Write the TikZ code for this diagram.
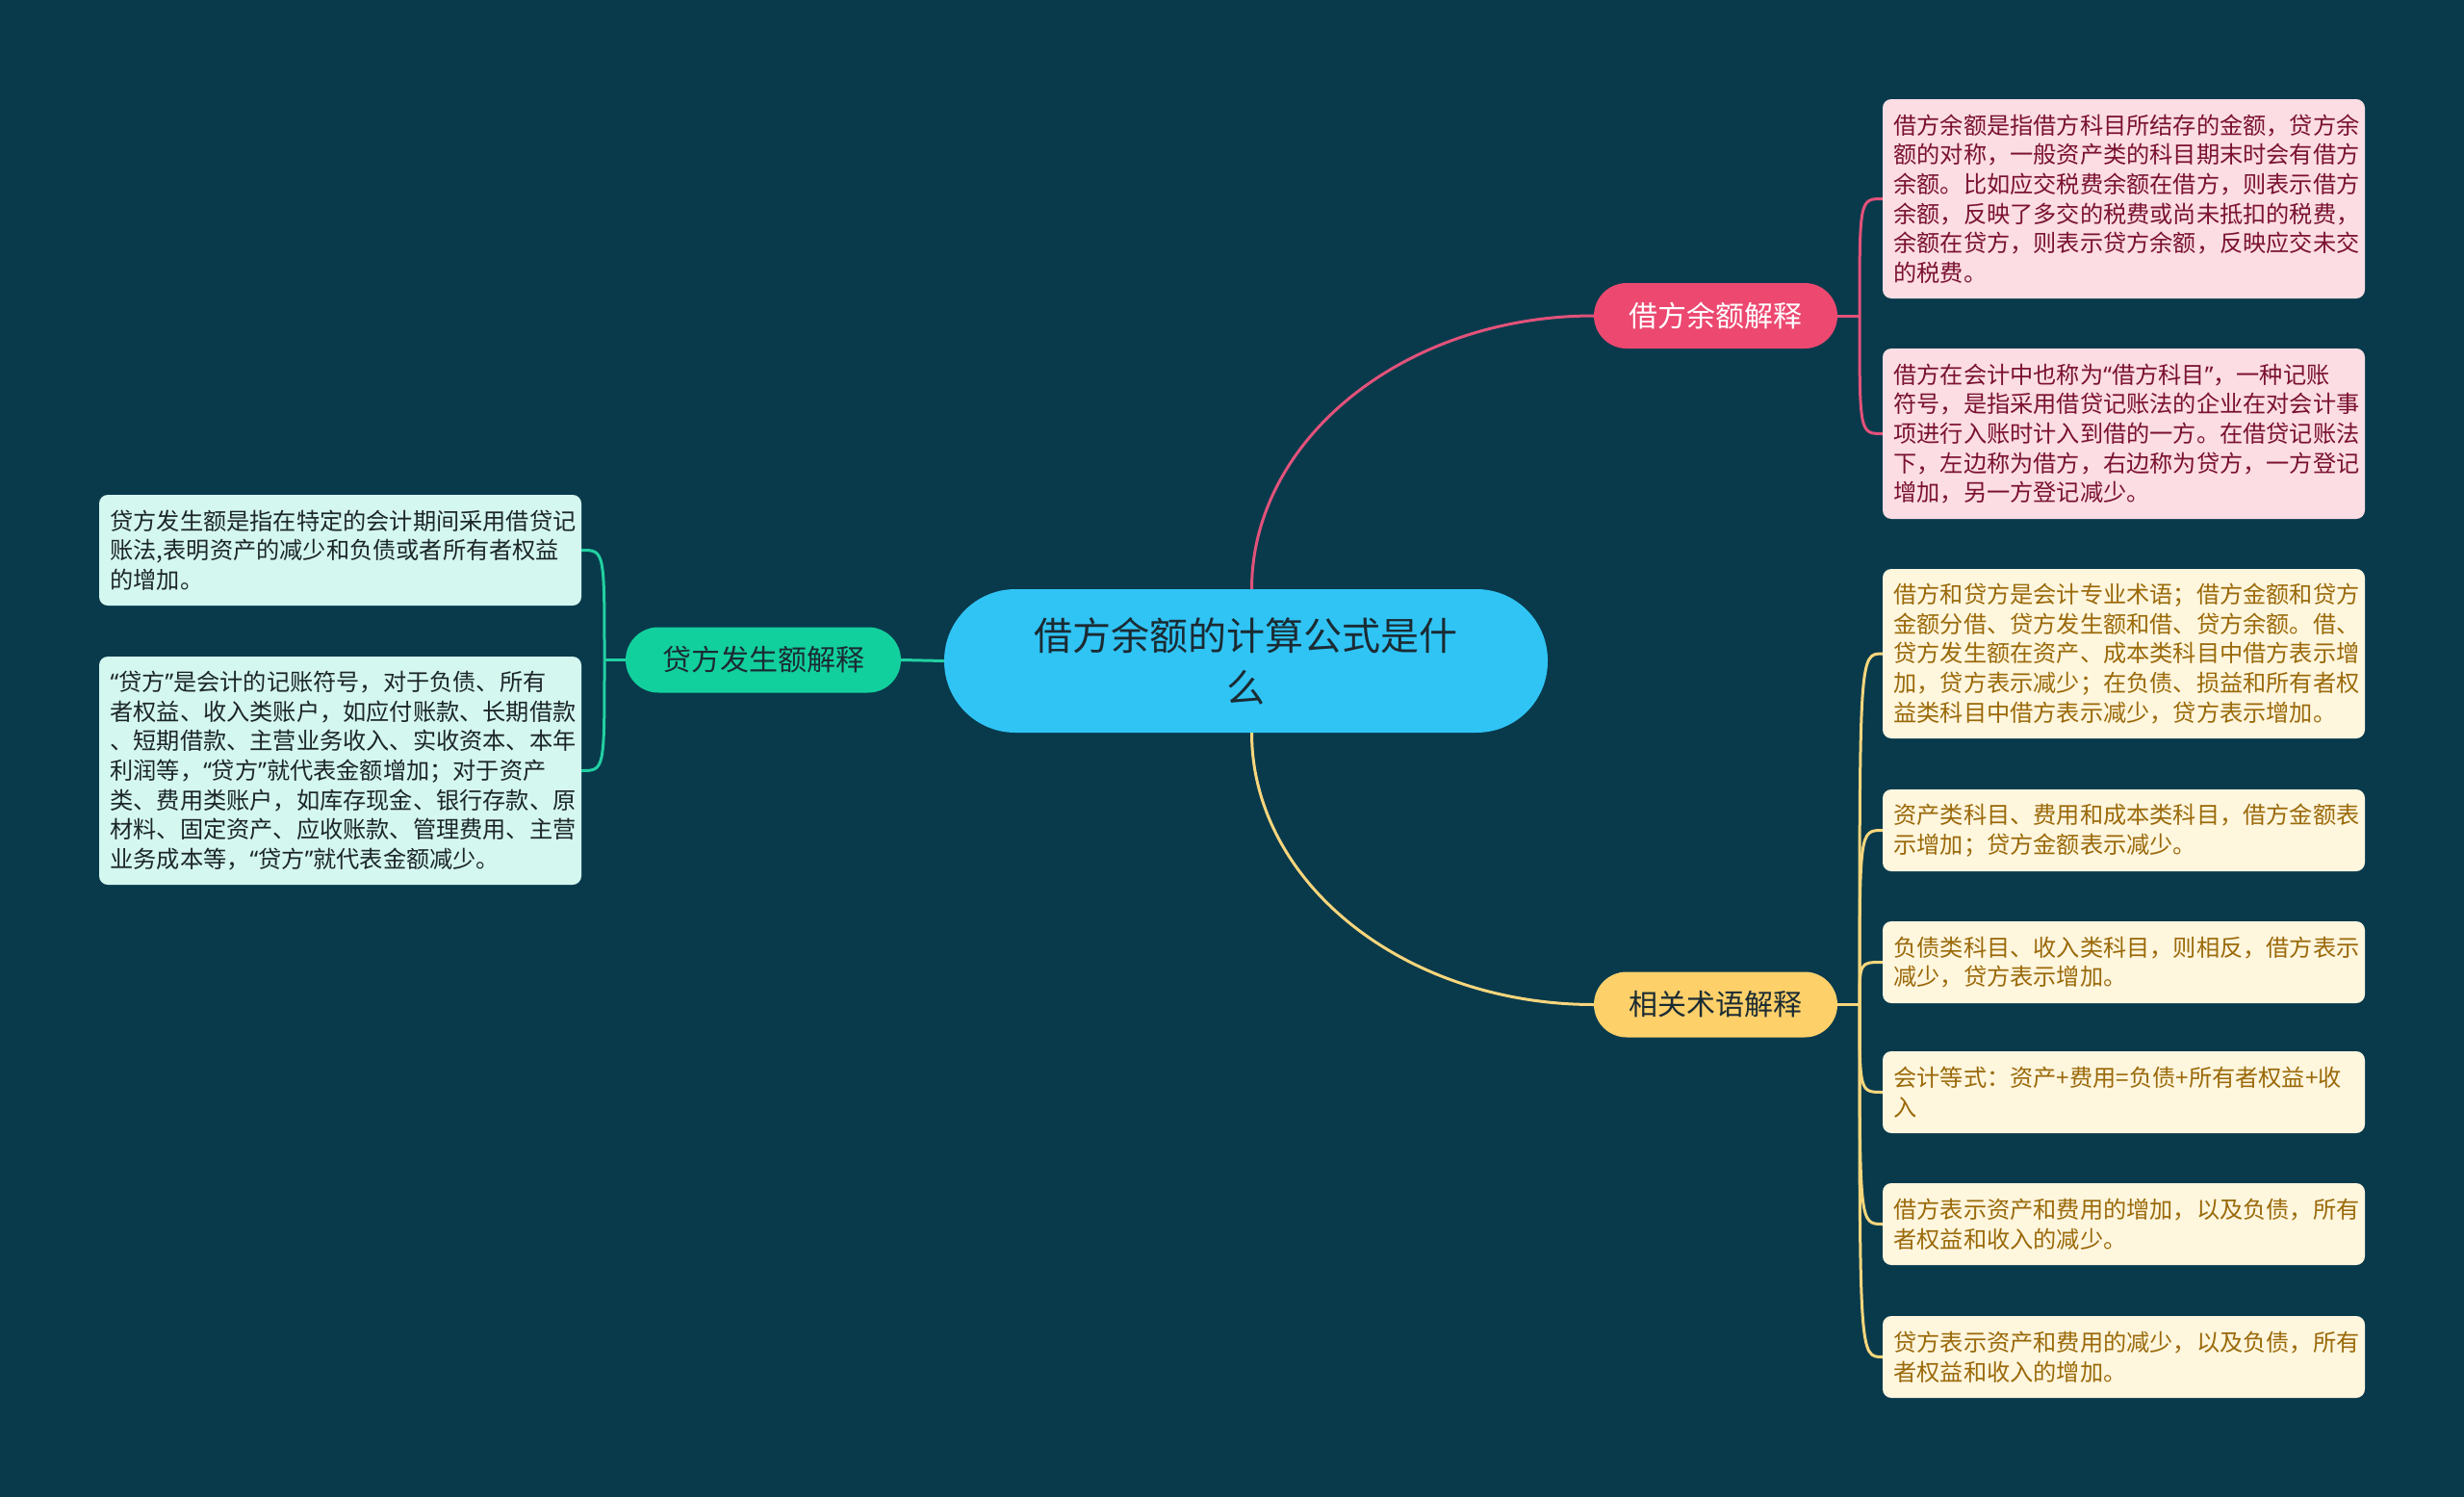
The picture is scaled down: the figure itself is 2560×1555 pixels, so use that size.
\documentclass[tikz,border=0pt]{standalone}
\usepackage{fontspec}
\setmainfont{Noto Sans CJK SC}
\newfontfamily\quotefont{Noto Sans}
\newcommand{\myql}{{\quotefont “}}
\newcommand{\myqr}{{\quotefont ”}}
\usetikzlibrary{calc}
\definecolor{bgc}{HTML}{083A4C}
\definecolor{cyanc}{HTML}{30C4F5}
\definecolor{darktext}{HTML}{1B2B33}
\definecolor{pinkc}{HTML}{EC4870}
\definecolor{pinkleaf}{HTML}{FCDDE4}
\definecolor{pinktext}{HTML}{7A1230}
\definecolor{pinkline}{HTML}{E2527A}
\definecolor{yellowc}{HTML}{FDD06A}
\definecolor{yellowleaf}{HTML}{FFF6DE}
\definecolor{yellowtext}{HTML}{9A6A0A}
\definecolor{yellowline}{HTML}{F8D67C}
\definecolor{greenc}{HTML}{12D09E}
\definecolor{greenleaf}{HTML}{D4F7EF}
\definecolor{greentext}{HTML}{1C262A}
\definecolor{greenline}{HTML}{22D0A2}
\begin{document}
\begin{tikzpicture}[x=1pt,y=-1pt,
  mainnode/.style={fill=cyanc, rounded corners=74pt, minimum width=627pt, minimum height=149pt, inner sep=0pt, align=center, text=darktext, font=\fontsize{40}{54}\selectfont},
  subnode/.style={rounded corners=34pt, minimum width=253pt, minimum height=68pt, inner sep=0pt, font=\fontsize{30}{34}\selectfont},
  leaf/.style={rounded corners=9pt, minimum width=501pt, text width=478pt, inner xsep=11.5pt, inner ysep=0pt, align=left, font=\fontsize{24.2}{30.7}\selectfont},
  pinkleafst/.style={leaf, fill=pinkleaf, text=pinktext},
  yellowleafst/.style={leaf, fill=yellowleaf, text=yellowtext},
  greenleafst/.style={leaf, fill=greenleaf, text=greentext},
  conn/.style={line width=3pt},
]
\fill[bgc] (0,0) rectangle (2560,1555);
\useasboundingbox (0,0) rectangle (2560,1555);

% main and sub nodes
\node[mainnode] (c) at (1294.5,686.5) {借方余额的计算公式是什\\么};
\node[subnode, fill=pinkc, text=white] (p) at (1782.5,328) {借方余额解释};
\node[subnode, fill=yellowc, text=darktext] (y) at (1782.5,1043.5) {相关术语解释};
\node[subnode, fill=greenc, text=darktext, minimum width=286pt] (g) at (793,685.5) {贷方发生额解释};

% pink leaves
\node[pinkleafst, minimum height=207pt] (p1) at (2206.5,206.5) {借方余额是指借方科目所结存的金额，贷方余\\额的对称，一般资产类的科目期末时会有借方\\余额。比如应交税费余额在借方，则表示借方\\余额，反映了多交的税费或尚未抵扣的税费，\\余额在贷方，则表示贷方余额，反映应交未交\\的税费。};
\node[pinkleafst, minimum height=177pt] (p2) at (2206.5,450.5) {借方在会计中也称为\myql 借方科目\myqr ，一种记账\\符号，是指采用借贷记账法的企业在对会计事\\项进行入账时计入到借的一方。在借贷记账法\\下，左边称为借方，右边称为贷方，一方登记\\增加，另一方登记减少。};

% yellow leaves
\node[yellowleafst, minimum height=176pt] (y1) at (2206.5,679) {借方和贷方是会计专业术语；借方金额和贷方\\金额分借、贷方发生额和借、贷方余额。借、\\贷方发生额在资产、成本类科目中借方表示增\\加，贷方表示减少；在负债、损益和所有者权\\益类科目中借方表示减少，贷方表示增加。};
\node[yellowleafst, minimum height=85pt] (y2) at (2206.5,862.5) {资产类科目、费用和成本类科目，借方金额表\\示增加；贷方金额表示减少。};
\node[yellowleafst, minimum height=85pt] (y3) at (2206.5,999.5) {负债类科目、收入类科目，则相反，借方表示\\减少，贷方表示增加。};
\node[yellowleafst, minimum height=85pt] (y4) at (2206.5,1134.5) {会计等式：资产+费用=负债+所有者权益+收\\入};
\node[yellowleafst, minimum height=85pt] (y5) at (2206.5,1271.5) {借方表示资产和费用的增加，以及负债，所有\\者权益和收入的减少。};
\node[yellowleafst, minimum height=85pt] (y6) at (2206.5,1409.5) {贷方表示资产和费用的减少，以及负债，所有\\者权益和收入的增加。};

% green leaves
\node[greenleafst, minimum height=115pt] (g1) at (353.5,571.5) {贷方发生额是指在特定的会计期间采用借贷记\\账法,表明资产的减少和负债或者所有者权益\\的增加。};
\node[greenleafst, minimum height=237pt] (g2) at (353.5,800.5) {\myql 贷方\myqr 是会计的记账符号，对于负债、所有\\者权益、收入类账户，如应付账款、长期借款\\、短期借款、主营业务收入、实收资本、本年\\利润等，\myql 贷方\myqr 就代表金额增加；对于资产\\类、费用类账户，如库存现金、银行存款、原\\材料、固定资产、应收账款、管理费用、主营\\业务成本等，\myql 贷方\myqr 就代表金额减少。};

% junctions
\coordinate (jp) at (1932,328);
\coordinate (jy) at (1932,1043.5);
\coordinate (jg) at (628,685.5);

% main connectors
\draw[conn, pinkline] ([xshift=6pt]c.north) .. controls +(0,-156) and +(-196,0) .. (p.west);
\draw[conn, yellowline] ([xshift=6pt]c.south) .. controls +(0,156) and +(-196,0) .. (y.west);
\draw[conn, greenline] (c.west) -- (g.east);

% pink branch
\draw[conn, pinkline] (p.east) -- (jp);
\foreach \n in {p1,p2} \draw[conn, pinkline] (jp) .. controls (jp |- \n.west) .. (\n.west);

% yellow branch
\draw[conn, yellowline] (y.east) -- (jy);
\foreach \n in {y1,y2,y3,y4,y5,y6} \draw[conn, yellowline] (jy) .. controls (jy |- \n.west) .. (\n.west);

% green branch
\draw[conn, greenline] (g.west) -- (jg);
\foreach \n in {g1,g2} \draw[conn, greenline] (jg) .. controls (jg |- \n.east) .. (\n.east);
\end{tikzpicture}
\end{document}
